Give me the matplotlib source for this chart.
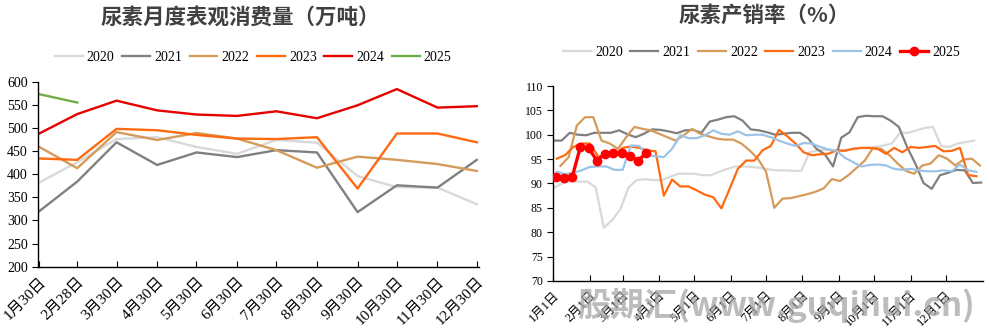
import matplotlib.pyplot as plt
import pandas as pd

plt.rcParams["font.family"] = ["Liberation Serif", "Noto Sans CJK SC"]
plt.rcParams["axes.unicode_minus"] = False

years = ["2020", "2021", "2022", "2023", "2024", "2025"]

# 月度表观消费量（万吨）
month_days = ["01-30", "02-28", "03-30", "04-30", "05-30", "06-30",
              "07-30", "08-30", "09-30", "10-30", "11-30", "12-30"]
month_labels = ["1月30日", "2月28日", "3月30日", "4月30日", "5月30日", "6月30日",
                "7月30日", "8月30日", "9月30日", "10月30日", "11月30日", "12月30日"]
cons_2020 = [382, 426, 476, 480, 459, 444, 474, 468, 396, 372, 371, 335]
cons_2021 = [320, 384, 469, 420, 447, 437, 452, 447, 318, 376, 371, 431]
cons_2022 = [459, 413, 491, 474, 489, 477, 452, 414, 438, 431, 422, 407]
cons_2023 = [434, 431, 498, 495, 485, 477, 476, 480, 369, 488, 488, 469]
cons_2024 = [488, 530, 559, 538, 529, 526, 536, 521, 549, 584, 544, 547]
cons_2025 = [573, 555]

# 周度产销率（%）
rate_2020 = [89.2, 90.1, 90.4, 90.4, 90.4, 89.2, 80.9, 82.5, 84.7, 89.2,
             90.7, 90.9, 90.7, 90.7, 91.3, 92.0, 92.0, 92.0, 91.7, 91.7,
             92.4, 93.0, 93.5, 93.5, 93.4, 93.2, 92.9, 92.7, 92.7, 92.6,
             92.6, 96.4, 96.8, 96.9, 96.8, 96.8, 97.1, 97.3, 97.3, 97.5,
             97.8, 98.2, 100.4, 100.4, 100.9, 101.4, 101.6, 97.7, 97.5, 98.2,
             98.5, 98.8]
rate_2021 = [98.8, 98.8, 100.4, 100.0, 99.9, 100.4, 100.4, 100.4, 100.9, 100.1,
             99.5, 100.2, 101.1, 101.0, 100.7, 100.3, 100.9, 101.0, 100.4, 102.7,
             103.1, 103.6, 103.8, 102.9, 101.1, 100.9, 100.5, 100.0, 100.2, 100.4,
             100.4, 99.2, 97.1, 96.0, 93.5, 99.4, 100.5, 103.6, 103.9, 103.8,
             103.8, 102.9, 101.6, 97.5, 94.1, 90.1, 88.9, 91.7, 92.2, 92.8,
             92.7, 90.1, 90.2]
rate_2022 = [93.6, 95.4, 101.9, 103.6, 103.6, 98.8, 98.2, 97.1, 99.5, 101.6,
             101.2, 100.9, 100.2, 99.5, 98.8, 99.9, 101.2, 100.2, 99.7, 99.2,
             99.0, 99.0, 98.2, 96.8, 95.1, 92.4, 85.0, 86.9, 87.0, 87.4,
             87.8, 88.3, 89.0, 90.9, 90.5, 91.7, 93.2, 94.7, 97.3, 97.1,
             95.8, 94.1, 92.6, 92.0, 93.7, 94.1, 95.8, 95.1, 93.7, 94.9,
             95.1, 93.7]
rate_2023 = [95.1, 95.8, 97.5, 98.2, 98.2, 95.6, 95.4, 95.8, 97.3, 97.6,
             97.3, 96.8, 96.6, 87.5, 90.8, 89.4, 89.4, 88.6, 87.7, 87.2,
             84.9, 88.9, 93.0, 94.7, 94.7, 96.8, 97.7, 101.0, 99.7, 98.2,
             96.4, 95.8, 96.0, 96.1, 96.8, 96.7, 97.1, 97.3, 97.3, 97.1,
             96.1, 97.3, 96.4, 97.5, 97.3, 97.5, 97.7, 96.6, 96.7, 97.3,
             91.7, 91.5]
rate_2024 = [92.4, 91.9, 92.2, 92.7, 93.4, 93.5, 93.5, 92.8, 92.8, 97.8,
             97.7, 95.8, 95.6, 95.4, 97.1, 99.9, 99.3, 99.3, 99.9, 100.9,
             100.2, 100.0, 100.7, 99.9, 100.0, 100.0, 99.5, 98.8, 98.2, 97.7,
             98.3, 98.2, 97.5, 97.0, 96.7, 95.3, 94.4, 93.5, 93.8, 93.9,
             93.7, 93.0, 92.8, 93.0, 92.7, 92.5, 92.5, 92.7, 92.5, 93.9,
             92.7, 92.4]
rate_2025 = [91.3, 91.2, 91.3, 97.5, 97.3, 94.7, 96.1, 96.2, 96.2, 95.6, 94.7, 96.2]
week_first = ["01-02", "01-01", "01-07", "01-04", "01-04", "01-03"]

cons = [cons_2020, cons_2021, cons_2022, cons_2023, cons_2024, cons_2025]
rates = [rate_2020, rate_2021, rate_2022, rate_2023, rate_2024, rate_2025]

left_colors = ["#D9D9D9", "#808080", "#D69A5A", "#FF6A10", "#E60000", "#70AD47"]
right_colors = ["#D9D9D9", "#808080", "#D69A5A", "#FF6A10", "#9DC3E6", "#FF0000"]

ref = "2023-"
month_x = pd.to_datetime([ref + d for d in month_days])

fig = plt.figure(figsize=(9.89, 3.34), dpi=100)
ax1 = fig.add_axes([0.0387, 0.2015, 0.4456, 0.5539])
ax2 = fig.add_axes([0.5595, 0.1587, 0.4345, 0.5838])

# left: monthly consumption
for yr, vals, c in zip(years, cons, left_colors):
    ax1.plot(month_x[:len(vals)], vals, color=c, lw=1.7, label=yr)
ax1.set_ylim(200, 600)
ax1.set_yticks(range(200, 601, 50))
ax1.set_xlim(pd.Timestamp("2023-01-29 06:00"), pd.Timestamp("2023-12-31 16:00"))
ax1.set_xticks(month_x)
ax1.set_xticklabels(month_labels, rotation=45, ha="right", va="top",
                    rotation_mode="anchor", fontsize=11)
ax1.tick_params(axis="y", labelsize=10, direction="out", length=4)
ax1.tick_params(axis="x", direction="in", length=4, pad=6)

# right: weekly production/sales ratio
for yr, vals, first, c in zip(years, rates, week_first, right_colors):
    wx = pd.date_range(ref + first, periods=len(vals), freq="7D")
    if yr == "2025":
        ax2.plot(wx, vals, color=c, lw=2.4, marker="o", ms=6, label=yr, zorder=5)
    else:
        ax2.plot(wx, vals, color=c, lw=1.6, label=yr)
ax2.set_ylim(70, 110)
ax2.set_yticks(range(70, 111, 5))
month_first = pd.date_range("2023-01-01", periods=12, freq="MS")
ax2.set_xlim(pd.Timestamp("2023-01-01"), pd.Timestamp("2024-01-01 16:00"))
ax2.set_xticks(month_first)
ax2.set_xticklabels([f"{m}月1日" for m in range(1, 13)], rotation=45, ha="right",
                    va="top", rotation_mode="anchor", fontsize=9)
ax2.tick_params(axis="y", labelsize=8.5, direction="out", length=4)
ax2.tick_params(axis="x", direction="in", length=4, pad=6)

for ax in (ax1, ax2):
    for s in ("top", "right"):
        ax.spines[s].set_visible(False)
    for s in ("left", "bottom"):
        ax.spines[s].set_linewidth(1.0)
        ax.spines[s].set_color("black")

leg_kw = dict(ncol=6, frameon=False, fontsize=10, handlelength=2.0,
              handletextpad=0.3, columnspacing=0.55, borderaxespad=0)
fig.legend(*ax1.get_legend_handles_labels(), loc="center",
           bbox_to_anchor=(0.256, 0.829), **leg_kw)
fig.legend(*ax2.get_legend_handles_labels(), loc="center",
           bbox_to_anchor=(0.77, 0.844), **leg_kw)

title_kw = dict(ha="center", va="center", fontsize=15.5, fontweight="bold",
                color="#404040", family=["Noto Sans CJK SC"])
fig.text(0.2425, 0.949, "尿素月度表观消费量（万吨）", **title_kw)
fig.text(0.7725, 0.955, "尿素产销率（%）", **title_kw)

fig.text(0.785, 0.085, "股期汇(www.guqihui.cn)", ha="center", va="center",
         fontsize=24, fontweight="bold", color="#A6A6A6", alpha=0.75,
         family=["Noto Sans CJK SC"], zorder=10)

fig.savefig("out.png", dpi=100)
